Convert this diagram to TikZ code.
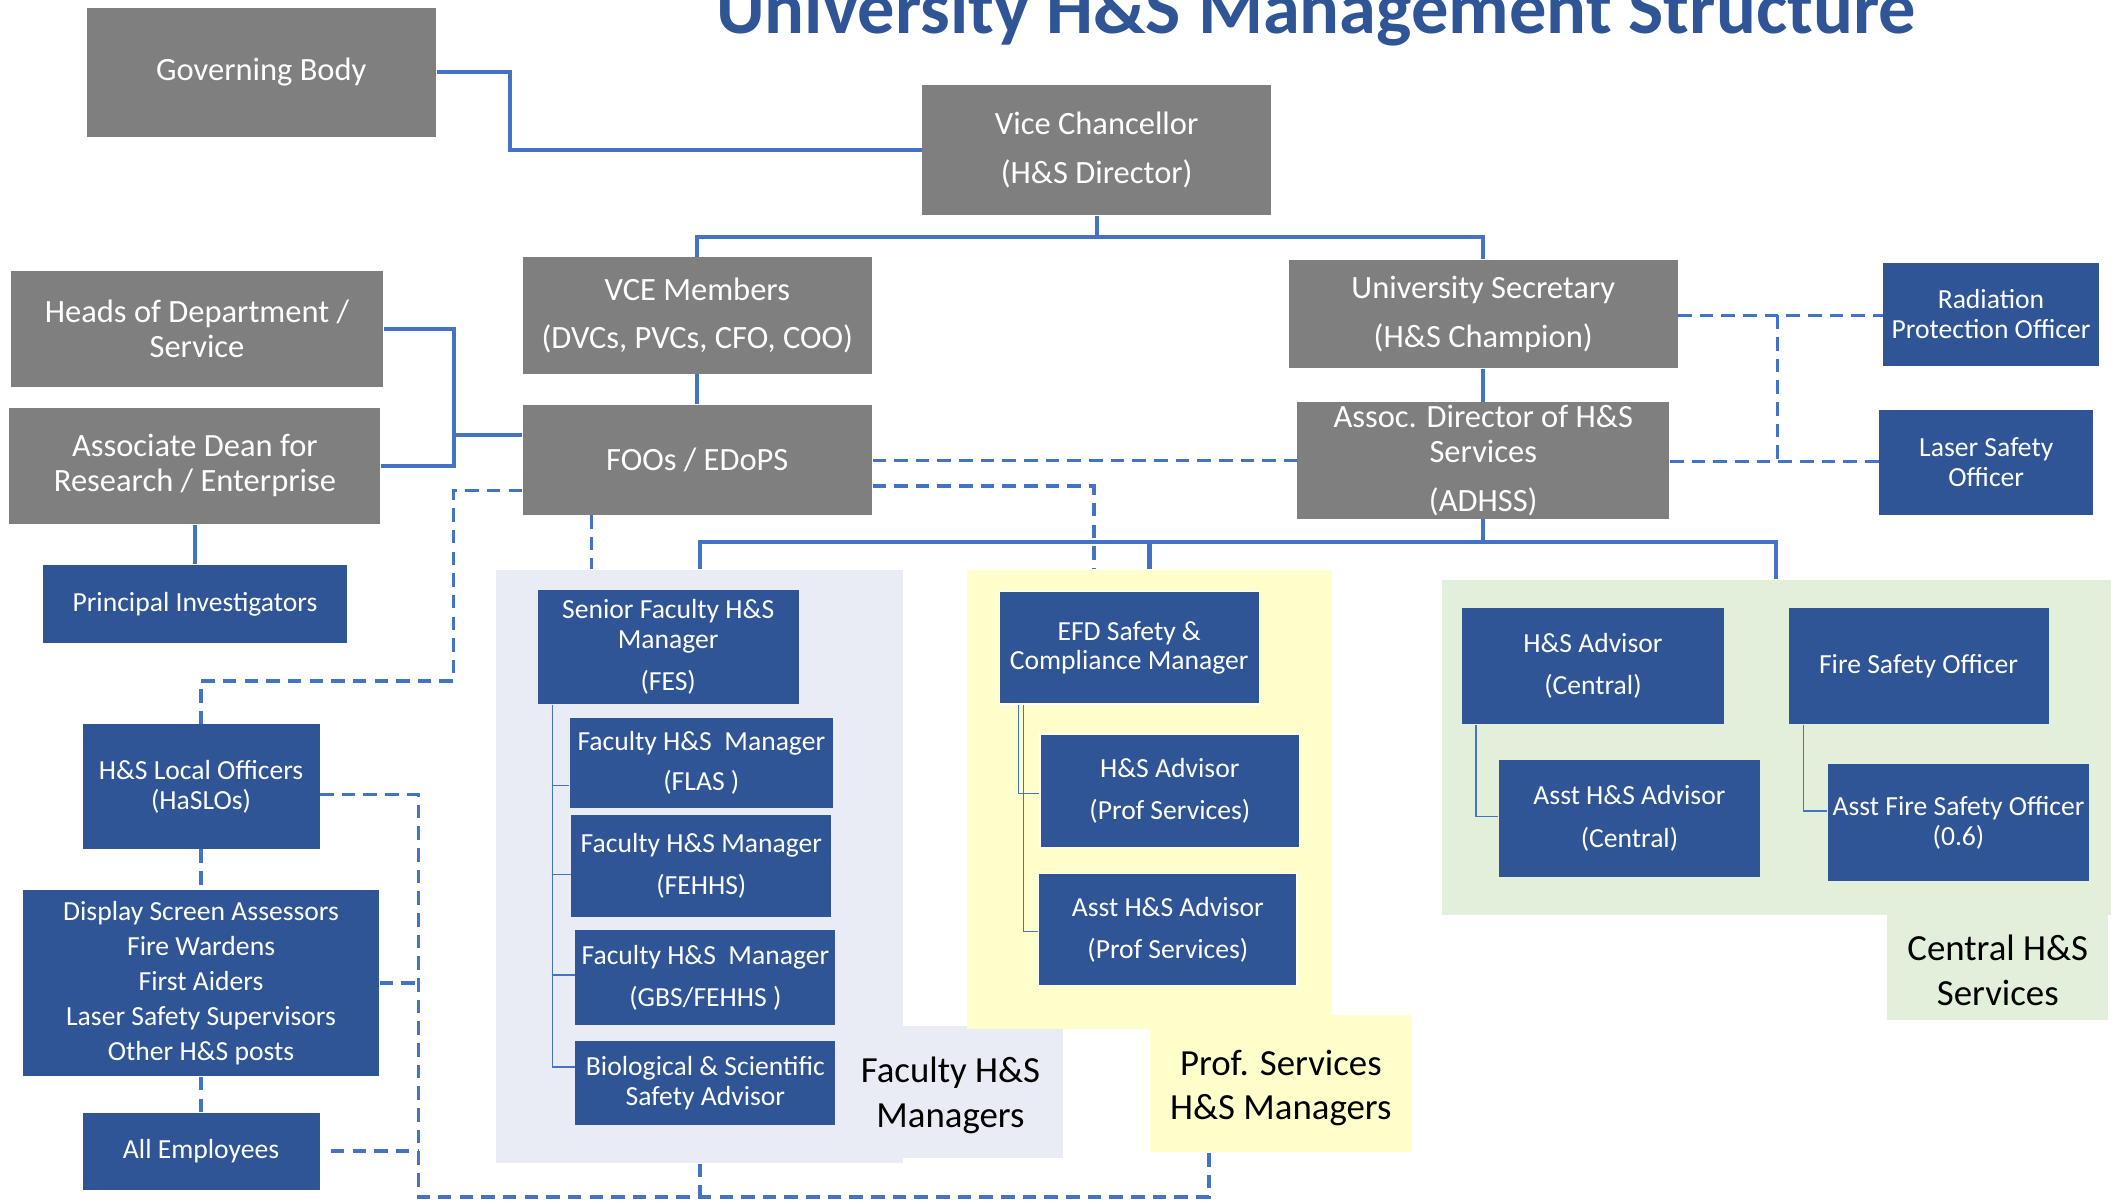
\documentclass[tikz,border=0pt]{standalone}
\usepackage{fontspec}
\setmainfont{Carlito}
\definecolor{boxgray}{HTML}{7F7F7F}
\definecolor{boxblue}{HTML}{2F5597}
\definecolor{lineblue}{HTML}{4472C4}
\definecolor{titleblue}{HTML}{2F5597}
\definecolor{facbg}{HTML}{E9EBF5}
\definecolor{profbg}{HTML}{FFFFCC}
\definecolor{cenbg}{HTML}{E2EFDA}
\begin{document}
\begin{tikzpicture}[x=0.5pt,y=-0.5pt,
  sz/.style 2 args={minimum width=#1*0.5pt,minimum height=#2*0.5pt},
  graybox/.style={fill=boxgray,text=white,inner sep=0pt,align=center,font=\fontsize{12}{13}\selectfont},
  bluebox/.style={fill=boxblue,text=white,inner sep=0pt,align=center,font=\fontsize{10.2}{11}\selectfont},
  wedge/.style={draw=white,line width=0.5pt},
  panel/.style={inner sep=0pt,draw=none},
  lbl/.style={font=\fontsize{13.6}{16.5}\selectfont,align=center,text=black,inner sep=0pt},
  conn/.style={draw=lineblue,line width=1.5pt},
  dconn/.style={draw=lineblue,line width=1.2pt,dash pattern=on 5pt off 3pt},
  tree/.style={draw=lineblue,line width=0.5pt}]
\useasboundingbox (0,0) rectangle (1568,889);
\fill[white] (0,0) rectangle (1568,889);

% title
\node[font=\fontsize{27.5}{30}\selectfont\bfseries,text=titleblue,anchor=base,inner sep=0pt] (title) at (972,24.5) {University H\&S Management Structure};

% panels
\node[panel,fill=facbg,sz={301}{438}] (FAC) at (516.5,640) {};
\node[panel,fill=facbg,sz={118}{97}] (FACL) at (726,806.5) {};
\node[lbl] (FACT) at (702,809) {Faculty H\&S\\Managers};
\node[panel,fill=profbg,sz={194}{101}] (PROFL) at (946,800.5) {};
\node[panel,fill=profbg,sz={270}{339}] (PROF) at (849,590.5) {};
\node[lbl] (PROFT) at (946,803.5) {Prof. Services\\H\&S Managers};
\node[panel,fill=cenbg,sz={494}{248}] (CEN) at (1312,552) {};
\node[panel,fill=cenbg,sz={163}{77}] (CENL) at (1475.5,714.5) {};
\node[lbl] (CENT) at (1475.5,716.5) {Central H\&S\\Services};

% gray boxes
\node[graybox,sz={258}{95}] (GB) at (193,53.5) {Governing Body};
\node[graybox,sz={258}{96}] (VC) at (810,111) {Vice Chancellor\\[5pt](H\&S Director)};
\node[graybox,sz={258}{86}] (VCE) at (515,233) {VCE Members\\[5pt](DVCs, PVCs, CFO, COO)};
\node[graybox,sz={287}{80}] (US) at (1095.5,232) {University Secretary\\[5pt](H\&S Champion)};
\node[graybox,sz={275}{86}] (HoD) at (145.5,243) {Heads of Department /\\Service};
\node[graybox,sz={274}{86}] (AD) at (144,344) {Associate Dean for\\Research / Enterprise};
\node[graybox,sz={258}{81}] (FOO) at (515,339.5) {FOOs / EDoPS};
\node[graybox,sz={275}{86}] (ADHSS) at (1095.5,340) {Assoc. Director of H\&S\\Services\\[5pt](ADHSS)};

% blue boxes
\node[bluebox,sz={159}{76}] (RPO) at (1470.5,232) {Radiation\\Protection Officer};
\node[bluebox,sz={158}{77}] (LSO) at (1467,341.5) {Laser Safety\\Officer};
\node[bluebox,sz={224}{58}] (PI) at (144,446) {Principal Investigators};
\node[bluebox,sz={193}{84}] (SFM) at (493.5,478) {Senior Faculty H\&S\\Manager\\[4.5pt](FES)};
\node[bluebox,sz={194}{67}] (FLAS) at (518,563.5) {Faculty H\&S\ \ Manager\\[4pt](FLAS )};
\node[bluebox,sz={192}{75}] (FEHHS) at (518,639.5) {Faculty H\&S Manager\\[4.5pt](FEHHS)};
\node[bluebox,sz={192}{70}] (GBS) at (521,722) {Faculty H\&S\ \ Manager\\[4.5pt](GBS/FEHHS )};
\node[bluebox,sz={192}{62}] (BSSA) at (521,800) {Biological \& Scientific\\Safety Advisor};
\node[bluebox,wedge,sz={192}{83}] (EFD) at (834,478.5) {EFD Safety \&\\Compliance Manager};
\node[bluebox,wedge,sz={192}{84}] (HSAP) at (864,584) {H\&S Advisor\\[4.5pt](Prof Services)};
\node[bluebox,wedge,sz={191}{83}] (AHSAP) at (862.5,686.5) {Asst H\&S Advisor\\[4.5pt](Prof Services)};
\node[bluebox,sz={193}{86}] (HSAC) at (1176.5,492) {H\&S Advisor\\[4.5pt](Central)};
\node[bluebox,sz={192}{86}] (FSO) at (1417,492) {Fire Safety Officer};
\node[bluebox,sz={193}{87}] (AHSAC) at (1203.5,604.5) {Asst H\&S Advisor\\[5pt](Central)};
\node[bluebox,sz={193}{87}] (AFSO) at (1446.5,607.5) {Asst Fire Safety Officer\\(0.6)};
\node[bluebox,sz={175}{92}] (HSLO) at (148.5,581) {H\&S Local Officers\\(HaSLOs)};
\node[bluebox,sz={263}{138},font=\fontsize{10.2}{12.9}\selectfont] (DSA) at (148.5,726) {Display Screen Assessors\\Fire Wardens\\First Aiders\\Laser Safety Supervisors\\Other H\&S posts};
\node[bluebox,sz={175}{57}] (AE) at (148.5,850.5) {All Employees};

% solid connectors
\draw[conn] (GB.east) -| (377,111) -- (VC.west);
\draw[conn] (VC.south) -- (810,175) -| (VCE.north);
\draw[conn] (810,175) -| (US.north);
\draw[conn] (VCE.south) -- (FOO.north);
\draw[conn] (US.south) -- (ADHSS.north);
\draw[conn] (HoD.east) -| (335,344) -- (AD.east);
\draw[conn] (335,321) -- (FOO.west |- 0,321);
\draw[conn] (AD.south) -- (PI.north);
\draw[conn] (ADHSS.south) -- (1095.5,400);
\draw[conn] (FAC.north -| 517,0) |- (1312,400) -- (CEN.north -| 1312,0);
\draw[conn] (849,400) -- (PROF.north -| 849,0);

% tree connectors
\draw[tree] (SFM.south -| 408,0) -- (408,788) -- (BSSA.west |- 0,788);
\draw[tree] (408,580) -- (FLAS.west |- 0,580);
\draw[tree] (408,646) -- (FEHHS.west |- 0,646);
\draw[tree] (408,720) -- (GBS.west |- 0,720);
\draw[tree] (EFD.south -| 752,0) |- (HSAP.west |- 0,586);
\draw[tree] (EFD.south -| 756,0) |- (AHSAP.west |- 0,688);
\draw[tree] (HSAC.south -| 1090,0) |- (AHSAC.west |- 0,603);
\draw[tree] (FSO.south -| 1332,0) |- (AFSO.west |- 0,599);

% dashed connectors
\draw[dconn] (FOO.west |- 0,362) -| (335,503) -| (HSLO.north);
\draw[dconn] (FOO.south -| 437,0) -- (FAC.north -| 437,0);
\draw[dconn] (FOO.east |- 0,359) -| (PROF.north -| 808,0);
\draw[dconn] (FOO.east |- 0,340) -- (ADHSS.west |- 0,340);
\draw[dconn] (US.east |- 0,233) -- (RPO.west |- 0,233);
\draw[dconn] (1313,233) -- (1313,341);
\draw[dconn] (ADHSS.east |- 0,341) -- (LSO.west |- 0,341);
\draw[dconn] (HSLO.south) -- (DSA.north);
\draw[dconn] (DSA.south) -- (AE.north);
\draw[dconn] (HSLO.east |- 0,587) -| (309,884) -| (PROFL.south -| 893,0);
\draw[dconn] (DSA.east |- 0,726) -- (309,726);
\draw[dconn] ([xshift=4pt]AE.east |- 0,850) -- (309,850);
\draw[dconn] (FAC.south -| 517,0) -- (517,884);
\end{tikzpicture}
\end{document}
